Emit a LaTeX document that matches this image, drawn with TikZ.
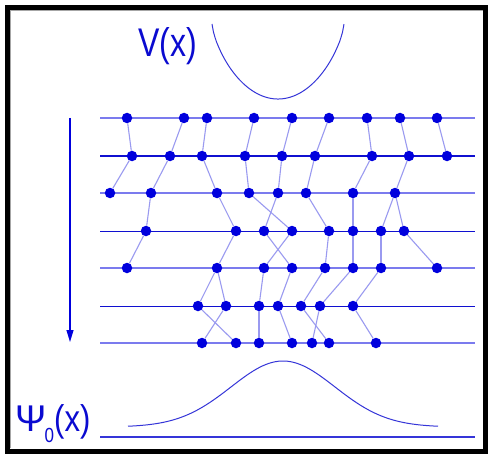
\documentclass[tikz,border=0pt]{standalone}
\usepackage{fontspec}
\setmainfont{Liberation Sans}
\usetikzlibrary{arrows.meta}
\definecolor{dotblue}{HTML}{0000DD}
\definecolor{lightline}{HTML}{7B7BEE}
\definecolor{darkline}{HTML}{1010D0}
\definecolor{edgeblue}{HTML}{9A9AF0}
\definecolor{curveblue}{HTML}{3535D8}
\definecolor{textblue}{HTML}{0A0AD0}
\begin{document}
\begin{tikzpicture}[x=1pt,y=-1pt,
  dot/.style={circle,fill=dotblue,inner sep=0pt,minimum size=10.5pt},
  lightrow/.style={lightline,line width=2pt},
  darkrow/.style={darkline,line width=1pt},
  link/.style={edgeblue,line width=1.1pt},
  curve/.style={curveblue,line width=1pt},
  lab/.style={anchor=base west,inner sep=0pt,text=textblue}]
\useasboundingbox (0,0) rectangle (489,457);
\fill[white] (0,0) rectangle (489,457);
% frame
\draw[black,line width=5pt] (7.5,7.5) rectangle (485.5,451);
\draw[gray!70,line width=1pt] (10.5,448) -- (10.5,10.5) -- (483,10.5);
% row lines
\foreach \r/\y in {1/118,2/156,3/193,4/231,5/268,6/306,7/343}{
  \coordinate (L\r a) at (100,\y);
  \coordinate (L\r b) at (475,\y);
}
\draw[lightrow] (L1a) -- (L1b);
\draw[darkrow]  (L2a) -- (L2b);
\draw[lightrow] (L3a) -- (L3b);
\draw[darkrow]  (L4a) -- (L4b);
\draw[lightrow] (L5a) -- (L5b);
\draw[darkrow]  (L6a) -- (L6b);
\draw[lightrow] (L7a) -- (L7b);
% dots
\foreach \x [count=\i] in {127,184,207,254,292,329,367,400,437} \node[dot] (a\i) at (\x,118) {};
\foreach \x [count=\i] in {132,170,202,245,282,315,372,409,447} \node[dot] (b\i) at (\x,156) {};
\foreach \x [count=\i] in {110,151,217,249,278,306,353,395} \node[dot] (c\i) at (\x,193) {};
\foreach \x [count=\i] in {146,236,264,292,329,353,381,404} \node[dot] (d\i) at (\x,231) {};
\foreach \x [count=\i] in {127,217,264,292,325,353,381,437} \node[dot] (e\i) at (\x,268) {};
\foreach \x [count=\i] in {198,226,259,278,301,320,353} \node[dot] (f\i) at (\x,306) {};
\foreach \x [count=\i] in {202,236,259,292,312,329,376} \node[dot] (g\i) at (\x,343) {};
% links
\foreach \p/\q in {1/1,2/2,3/3,4/4,5/5,6/6,7/7,8/8,9/9} \draw[link] (a\p) -- (b\q);
\foreach \p/\q in {1/1,2/2,3/3,4/4,5/5,6/6,7/7,8/8} \draw[link] (b\p) -- (c\q);
\foreach \p/\q in {2/1,3/2,4/4,5/3,6/5,7/6,8/7,8/8} \draw[link] (c\p) -- (d\q);
\foreach \p/\q in {1/1,2/2,3/4,4/3,5/5,6/6,7/7,8/8} \draw[link] (d\p) -- (e\q);
\foreach \p/\q in {2/1,2/2,3/3,4/4,5/5,6/6,7/7} \draw[link] (e\p) -- (f\q);
\foreach \p/\q in {1/2,2/1,3/3,4/4,5/6,6/5,7/7} \draw[link] (f\p) -- (g\q);
% time arrow
\coordinate (arrS) at (70,118);
\coordinate (arrE) at (70,342);
\draw[dotblue,line width=1.2pt,-{Triangle[length=12pt,width=7pt]}] (arrS) -- (arrE);
% potential
\draw[curve] plot[domain=-66:66,samples=90,variable=\t]
  ({278+\t},{24+75*exp(ln(1-(\t/66)*(\t/66)+0.00001)/1.4)});
\node[lab] (vlab) at (138,57) {\scalebox{1}[1.25]{\fontsize{32}{32}\selectfont V(x)}};
% ground state
\coordinate (P1) at (100,437);
\coordinate (P2) at (475,437);
\draw[curveblue,line width=1.2pt] (P1) -- (P2);
\draw[curve] plot[domain=-155:155,samples=100,variable=\t]
  ({283+\t},{427-66*exp(-0.5*(\t/52)*(\t/52))});
\node[lab] (plab) at (15,431) {\scalebox{1}[1.2]{\fontsize{31}{31}\selectfont \scalebox{1.2}[1]{Ψ}\kern-0.05em\raisebox{-0.3em}{\fontsize{17}{17}\selectfont 0}(x)}};
\end{tikzpicture}
\end{document}
